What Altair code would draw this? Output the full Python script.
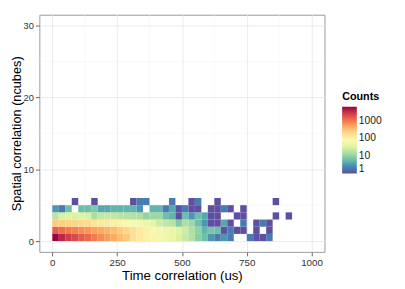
import altair as alt
import pandas as pd

# ---- data ----
TIME_BIN = 25  # us per bin
# counts per 25-us time bin, one list per spatial-correlation row (ncubes = 0..5)
row0 = [6000, 3500, 2500, 2000, 1500, 1200, 900, 700, 550, 450, 320, 270, 160, 120, 100, 85, 70,
        55, 45, 30, 22, 16, 9, 6, 3, 2, 3, 2, 0, 0, 2, 1, 1, 2]
row1 = [1400, 1100, 900, 800, 700, 600, 500, 450, 380, 320, 250, 200, 160, 120, 100, 80, 65,
        55, 45, 35, 25, 15, 10, 5, 7, 6, 1, 2, 1, 1, 0, 1, 0, 1]
row2 = [250, 230, 220, 210, 200, 190, 150, 130, 120, 100, 85, 80, 75, 60, 50, 40, 25, 20, 18, 8,
        15, 12, 6, 3, 1, 1, 4, 1, 0, 2, 0, 1, 2, 1]
row3 = [18, 30, 32, 30, 32, 30, 14, 20, 22, 20, 18, 17, 16, 15, 10, 12, 12, 6, 5, 1, 6, 3, 6, 4,
        1, 1, 0, 0, 1, 1, 0, 0, 0, 0, 1, 0, 1]
row4 = [3, 2, 6, 0, 6, 6, 8, 4, 4, 5, 5, 5, 5, 3, 0, 5, 5, 2, 4, 1, 2, 1, 1, 0, 1, 1, 2, 1, 0, 1]
row5 = [0, 0, 0, 1, 0, 0, 1, 0, 0, 0, 0, 0, 1, 2, 2, 0, 0, 0, 2, 0, 0, 1, 2, 0, 0, 1, 0, 0, 0, 0,
        0, 0, 0, 0, 1]
rows = [row0, row1, row2, row3, row4, row5]

x_ticks = [0, 250, 500, 750, 1000]
x_minor = [125, 375, 625, 875]
y_ticks = [0, 10, 20, 30]
y_minor = [5, 15, 25]
legend_ticks = [1, 10, 100, 1000]

records = []
for j, r in enumerate(rows):
    for i, c in enumerate(r):
        if c > 0:
            records.append(dict(t0=i * TIME_BIN, t1=(i + 1) * TIME_BIN, s0=j, s1=j + 1, count=c))
df = pd.DataFrame(records)

FONT = "Liberation Sans"
xscale = alt.Scale(domain=[-50, 1050], nice=False, zero=False)
yscale = alt.Scale(domain=[-1.5, 31.5], nice=False, zero=False)
xaxis = alt.Axis(values=x_ticks, title="Time correlation (us)", grid=True, format="d")
yaxis = alt.Axis(values=y_ticks, title="Spatial correlation (ncubes)", grid=True, format="d")

minor_x = alt.Chart(pd.DataFrame({"v": x_minor})).mark_rule(color="#F4F4F4", strokeWidth=0.6).encode(
    x=alt.X("v:Q", scale=xscale, axis=xaxis))
minor_y = alt.Chart(pd.DataFrame({"v": y_minor})).mark_rule(color="#F4F4F4", strokeWidth=0.6).encode(
    y=alt.Y("v:Q", scale=yscale, axis=yaxis))

tiles = alt.Chart(df).mark_rect(strokeWidth=0).encode(
    x=alt.X("t0:Q", scale=xscale, axis=xaxis),
    x2="t1:Q",
    y=alt.Y("s0:Q", scale=yscale, axis=yaxis),
    y2="s1:Q",
    color=alt.Color("count:Q",
                    scale=alt.Scale(type="log", domain=[1, 6000], scheme="spectral",
                                    reverse=True, nice=False),
                    legend=alt.Legend(title="Counts", orient="none", legendX=309, legendY=78,
                                      values=legend_ticks, format="d", gradientLength=68,
                                      gradientThickness=15, direction="vertical",
                                      titleFontSize=11, titleFontWeight="bold",
                                      titleColor="black", labelFontSize=10.5,
                                      labelColor="#1A1A1A", gradientStrokeWidth=0,
                                      titlePadding=5, labelFont=FONT, titleFont=FONT)),
)

chart = (minor_x + minor_y + tiles).properties(
    width=291, height=242,
    autosize=alt.AutoSizeParams(type="none"),
    padding={"left": 32, "top": 4, "right": 74, "bottom": 35},
).configure_view(
    stroke="#9A9A9A", strokeWidth=1
).configure_axis(
    domain=False, gridColor="#EBEBEB", gridWidth=1,
    tickColor="#666666", tickSize=4, labelColor="#333333", labelFontSize=10,
    labelFont=FONT, titleFont=FONT, titleFontSize=13.5, titleFontWeight="normal",
    titleColor="black", labelPadding=2,
).configure_axisX(titlePadding=1).configure_axisY(titlePadding=0, labelFontSize=9.5,
                                                    titleFontSize=13)

chart.save("out.html", embed_options={"renderer": "svg", "actions": False})
